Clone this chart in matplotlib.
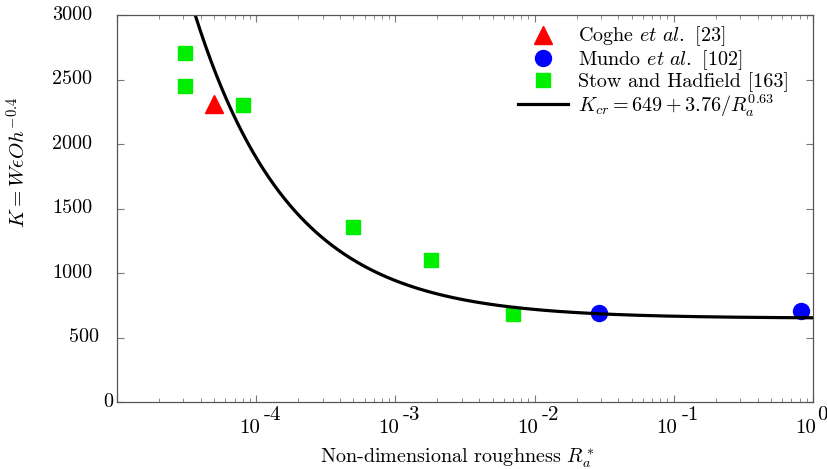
import matplotlib
matplotlib.use("Agg")
import matplotlib.pyplot as plt
import numpy as np

plt.rcParams["font.family"] = "serif"
plt.rcParams["font.serif"] = ["cmr10", "DejaVu Serif"]
plt.rcParams["mathtext.fontset"] = "cm"
plt.rcParams["axes.unicode_minus"] = False
plt.rcParams["axes.formatter.use_mathtext"] = True

# data
coghe_x = [5.0e-5]
coghe_y = [2310]
mundo_x = [0.029, 0.82]
mundo_y = [690, 705]
stow_x = [3.06e-5, 3.06e-5, 8.1e-5, 5.0e-4, 1.8e-3, 7.0e-3]
stow_y = [2705, 2450, 2300, 1355, 1100, 680]

# fit coefficients from the legend: K = a + b / R^p
fit_a, fit_b, fit_p = 649, 3.76, 0.63

decades = [-4, -3, -2, -1, 0]
yticks = [0, 500, 1000, 1500, 2000, 2500, 3000]

fig = plt.figure(figsize=(8.27, 4.69), dpi=100)
ax = fig.add_axes([117 / 827, 67 / 469, 696 / 827, 387 / 469])

r = np.logspace(-5, 0, 400)
k = fit_a + fit_b / r**fit_p

ax.plot(coghe_x, coghe_y, "^", color="red", ms=13, ls="none",
        label=r"Coghe $et\ al.$ [23]")
ax.plot(mundo_x, mundo_y, "o", color="blue", ms=11.5, ls="none",
        label=r"Mundo $et\ al.$ [102]")
ax.plot(stow_x, stow_y, "s", color="#00ee00", ms=10, ls="none",
        label="Stow and Hadfield [163]")
ax.plot(r, k, color="black", lw=2.3,
        label=r"$K_{cr} = 649 + 3.76/R_a^{0.63}$")

ax.set_xscale("log")
ax.set_xlim(1e-5, 1e0)
ax.set_ylim(0, 3000)
ax.set_yticks(yticks)
ax.set_yticklabels([""] * len(yticks))

for s in ax.spines.values():
    s.set_color("#555555")
    s.set_linewidth(0.9)
ax.tick_params(which="both", direction="in", top=True, right=True,
               color="#777777")
ax.tick_params(which="major", length=5)
ax.tick_params(which="minor", length=3)

# y labels, placed like the stretched ones in the original
for v in yticks:
    n = len(str(v))
    ax.annotate(str(v), (0, v), xycoords=("axes fraction", "data"),
                xytext=(-(7 * n - 3) * 0.72, 0), textcoords="offset points",
                ha="right", va="center", fontsize=14.5, annotation_clip=False)

# gnuplot-style "10" with a full size exponent
ax.set_xticks([10.0**d for d in [-5] + decades])
ax.set_xticklabels([""] * (len(decades) + 1))
for d in decades:
    ax.annotate("10", (10.0**d, 0), xycoords=("data", "axes fraction"),
                xytext=(2.5, -18.5), textcoords="offset points",
                ha="right", va="center", fontsize=15, annotation_clip=False)
    ax.annotate("-%d" % abs(d) if d else "0", (10.0**d, 0),
                xycoords=("data", "axes fraction"),
                xytext=(5.5 if d else 3.0, -9.5), textcoords="offset points",
                ha="left", va="center", fontsize=15, annotation_clip=False)

ax.set_xlabel(r"Non-dimensional roughness $R_a^*$", fontsize=14.5)
ax.xaxis.set_label_coords(0.49, -0.113)
ax.set_ylabel(r"$K = W\epsilon Oh^{-0.4}$", fontsize=15)
ax.yaxis.set_label_coords(-0.126, 0.618)

ax.legend(loc="upper left", bbox_to_anchor=(0.576, 0.975), frameon=False,
          fontsize=14.5, handlelength=2.5, handletextpad=0.5,
          labelspacing=0.0, borderpad=0, borderaxespad=0)

fig.savefig("out.png", dpi=100)
